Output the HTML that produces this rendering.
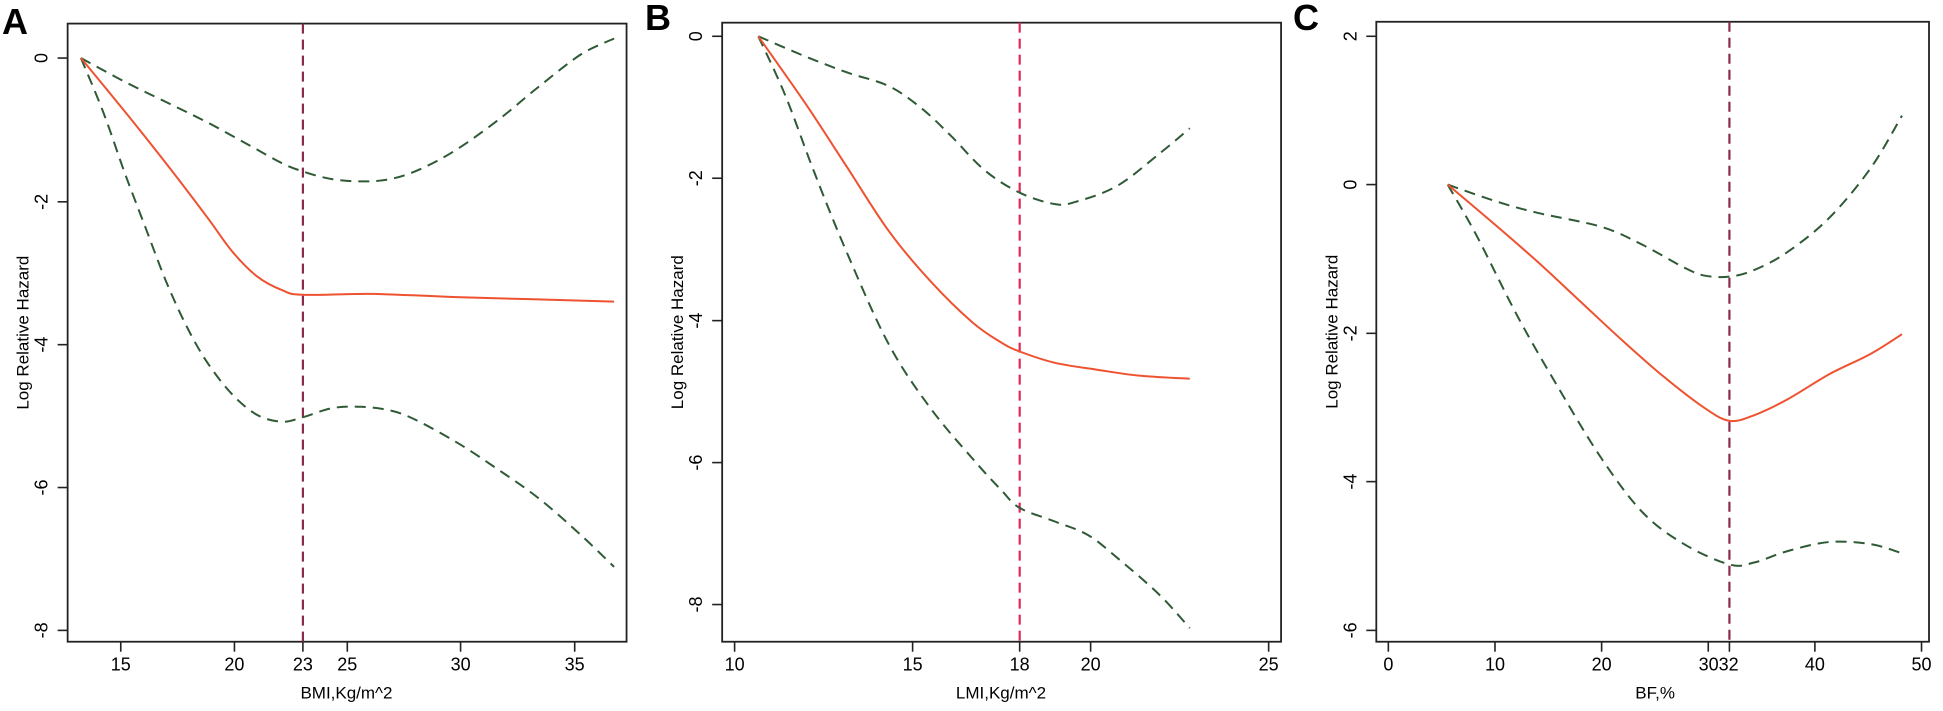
<!DOCTYPE html>
<html><head><meta charset="utf-8"><style>
html,body{margin:0;padding:0;background:#fff;}
svg{display:block;font-family:"Liberation Sans",Arial,sans-serif;}
</style></head><body>
<svg id="s" width="1943" height="711" viewBox="0 0 1943 711" xmlns="http://www.w3.org/2000/svg">
<text x="2" y="34" font-size="36" font-weight="bold">A</text>
<text x="645" y="30" font-size="36" font-weight="bold">B</text>
<text x="1293" y="30" font-size="36" font-weight="bold">C</text>
</svg>
<script>
const S=document.getElementById('s'),NS='http://www.w3.org/2000/svg';
const sx=2.41,sy=2.205;
function el(t,a,txt){const e=document.createElementNS(NS,t);for(const k in a)e.setAttribute(k,a[k]);if(txt!==undefined)e.textContent=txt;S.appendChild(e);return e;}
function path(pts){let d='M'+pts[0][0].toFixed(1)+','+pts[0][1].toFixed(1);
for(let i=0;i<pts.length-1;i++){const p0=pts[i-1]||pts[i],p1=pts[i],p2=pts[i+1],p3=pts[i+2]||p2;
const c1=[p1[0]+(p2[0]-p0[0])/6,p1[1]+(p2[1]-p0[1])/6],c2=[p2[0]-(p3[0]-p1[0])/6,p2[1]-(p3[1]-p1[1])/6];
d+=' C'+c1.map(v=>v.toFixed(1))+' '+c2.map(v=>v.toFixed(1))+' '+p2.map(v=>v.toFixed(1));}return d;}
function panel(o){
 const ox=o.ox,cx=x=>ox+x/sx,cy=y=>y/sy;
 const L=cx(o.box[0]),R=cx(o.box[1]),T=cy(o.box[2]),B=cy(o.box[3]);
 el('rect',{x:L,y:T,width:R-L,height:B-T,fill:'none',stroke:'#222','stroke-width':1.8});
 o.yt.forEach(([v,y])=>{const Y=cy(y);el('line',{x1:L,y1:Y,x2:L-10,y2:Y,stroke:'#222','stroke-width':1.6});
  el('text',{x:0,y:0,'font-size':18,'text-anchor':'middle',transform:`translate(${L-20},${Y}) rotate(-90)`},v);});
 o.xt.forEach(([v,x])=>{const X=cx(x);el('line',{x1:X,y1:B,x2:X,y2:B+10,stroke:'#222','stroke-width':1.6});});
 o.xl.forEach(([v,x])=>el('text',{x:cx(x),y:B+29,'font-size':18,'text-anchor':'middle'},v));
 el('text',{x:cx(o.xtitle[1]),y:B+57,'font-size':17,'text-anchor':'middle'},o.xtitle[0]);
 el('text',{x:0,y:0,'font-size':17,'text-anchor':'middle',transform:`translate(${L-39},${(T+B)/2}) rotate(-90)`},'Log Relative Hazard');
 const cv=p=>p.map(q=>[cx(q[0]),cy(q[1])]);
 el('line',{x1:cx(o.vx),y1:T,x2:cx(o.vx),y2:B,stroke:o.vc,'stroke-width':2.2,'stroke-dasharray':'10,6'});
 el('path',{d:path(cv(o.up)),fill:'none',stroke:'#2f5a36','stroke-width':2,'stroke-dasharray':'11,7'});
 el('path',{d:path(cv(o.lo)),fill:'none',stroke:'#2f5a36','stroke-width':2,'stroke-dasharray':'11,7'});
 el('path',{d:path(cv(o.mid)),fill:'none',stroke:'#ee5230','stroke-width':2});
}
panel({ox:0,box:[163,1510,52,1415],
 yt:[['0',128],['-2',445],['-4',760],['-6',1075],['-8',1390]],
 xt:[[15,291],[20,565],[23,730],[25,837],[30,1110],[35,1385]],
 xl:[['15',291],['20',565],['23',730],['25',837],['30',1110],['35',1385]],
 xtitle:['BMI,Kg/m^2',835],vx:730,vc:'#8a2a4c',
 mid:[[195,128],[300,245],[400,360],[500,480],[560,555],[620,610],[680,640],[730,650],[900,648],[1100,655],[1480,665]],
 up:[[195,128],[300,180],[400,225],[500,270],[600,320],[680,360],[730,378],[800,395],[880,400],[950,393],[1020,370],[1100,330],[1200,265],[1300,190],[1400,120],[1480,85]],
 lo:[[195,128],[250,250],[300,380],[350,500],[400,620],[450,720],[500,800],[560,870],[620,915],[680,930],[730,920],[800,900],[870,897],[940,905],[1000,925],[1100,975],[1200,1035],[1300,1100],[1400,1180],[1480,1250]]});
panel({ox:640,box:[198,1545,50,1415],
 yt:[['0',80],['-2',393],['-4',707],['-6',1020],['-8',1333]],
 xt:[[10,228],[15,657],[18,915],[20,1086],[25,1515]],
 xl:[['10',228],['15',657],['18',915],['20',1086],['25',1515]],
 xtitle:['LMI,Kg/m^2',870],vx:915,vc:'#e0285a',
 mid:[[285,80],[400,230],[500,370],[600,510],[700,620],[800,710],[870,755],[915,775],[1000,800],[1100,815],[1200,828],[1325,835]],
 up:[[285,80],[400,125],[500,160],[600,190],[680,240],[750,300],[830,375],[915,425],[1000,450],[1050,445],[1150,410],[1250,340],[1325,283]],
 lo:[[285,80],[350,210],[420,380],[500,560],[600,760],[700,900],[800,1010],[870,1080],[915,1120],[1000,1150],[1080,1180],[1150,1230],[1250,1310],[1325,1385]]});
panel({ox:1290,box:[208,1540,48,1415],
 yt:[['2',80],['0',407],['-2',735],['-4',1062],['-6',1390]],
 xt:[[0,237],[10,494],[20,751],[30,1008],[32,1059],[40,1265],[50,1522]],
 xl:[['0',237],['10',494],['20',751],['3032',1033],['40',1265],['50',1522]],
 xtitle:['BF,%',880],vx:1059,vc:'#8a2a4c',
 mid:[[380,407],[500,500],[600,580],[700,665],[800,750],[900,830],[1000,900],[1060,928],[1120,915],[1200,880],[1300,825],[1400,780],[1475,737]],
 up:[[380,407],[500,445],[600,470],[750,500],[850,540],[950,590],[1000,608],[1060,610],[1120,595],[1200,555],[1300,480],[1400,370],[1475,255]],
 lo:[[380,407],[450,520],[550,700],[650,860],[750,1010],[850,1130],[950,1200],[1060,1245],[1120,1240],[1200,1215],[1300,1195],[1400,1200],[1475,1220]]});
</script>
</body></html>
